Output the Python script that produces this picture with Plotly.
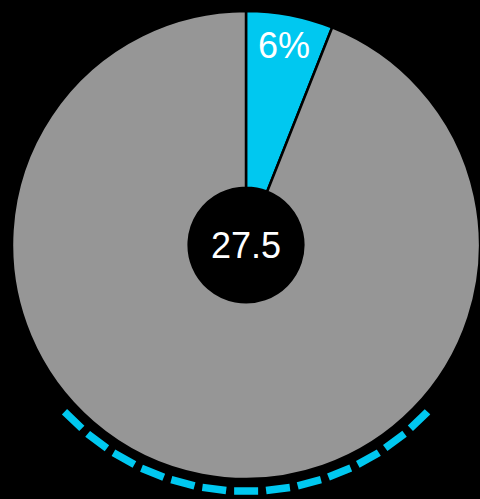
import numpy as np
import plotly.graph_objects as go

# Slice data
labels = ["Share", "Remainder"]
values = [6, 94]
colors = ["#00C8F0", "#969696"]
center_value = 27.5

# Layout geometry (figure is 480 x 499, pie radius in px)
W, H = 480, 499
pie_r = 234
cx, cy = 246, 245          # pie centre, px from left / top
hole_frac = 0.245
arc_r = 246.5 / pie_r      # dashed arc radius, in pie-radius units
dash_len, gap_len = 24, 8
n_dashes = 13

fig = go.Figure()

fig.add_trace(go.Pie(
    labels=labels,
    values=values,
    sort=False,
    direction="clockwise",
    rotation=0,
    hole=hole_frac,
    marker=dict(colors=colors, line=dict(color="#000000", width=2.5)),
    textinfo="none",
    hoverinfo="skip",
    showlegend=False,
    domain=dict(x=[(cx - pie_r) / W, (cx + pie_r) / W],
                y=[(H - cy - pie_r) / H, (H - cy + pie_r) / H]),
))

# Dashed arc under the pie, centred on the bottom
arc_px = n_dashes * dash_len + (n_dashes - 1) * gap_len
half = arc_px / (arc_r * pie_r) / 2
t = np.linspace(np.pi + half, np.pi - half, 400)
fig.add_trace(go.Scatter(
    x=arc_r * np.sin(t), y=arc_r * np.cos(t),
    mode="lines",
    line=dict(color=colors[0], width=7.5, dash=f"{dash_len}px,{gap_len}px"),
    hoverinfo="skip", showlegend=False,
))

# Percentage label inside the highlighted slice
frac = values[0] / sum(values)
mid = np.deg2rad(360 * frac / 2)
lab_r = 0.866
fig.add_annotation(
    x=lab_r * np.sin(mid), y=lab_r * np.cos(mid), xref="x", yref="y",
    text=f"{round(frac * 100)}%", showarrow=False,
    font=dict(family="Liberation Sans, Arial", size=36, color="#FFFFFF"),
)

# Centre value
fig.add_annotation(
    x=0, y=0, xref="x", yref="y",
    text=f"{center_value}", showarrow=False,
    font=dict(family="Liberation Sans, Arial", size=36, color="#FFFFFF"),
)

fig.update_xaxes(range=[-cx / pie_r, (W - cx) / pie_r], visible=False, fixedrange=True)
fig.update_yaxes(range=[-(H - cy) / pie_r, cy / pie_r], visible=False, fixedrange=True)

fig.update_layout(
    width=W, height=H,
    margin=dict(l=0, r=0, t=0, b=0),
    paper_bgcolor="#000000",
    plot_bgcolor="#000000",
    showlegend=False,
)

fig.write_html("out.html", config={"displayModeBar": False})
